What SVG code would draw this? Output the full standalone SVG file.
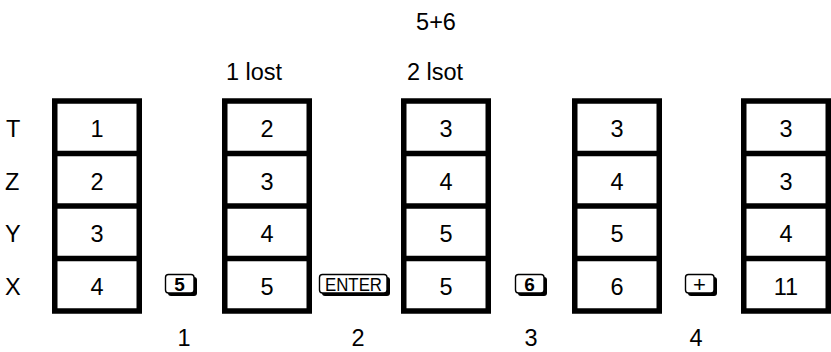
<svg xmlns="http://www.w3.org/2000/svg" width="831" height="352" viewBox="0 0 831 352">
<style>
.t{font-family:"Liberation Sans",Arial,sans-serif;font-size:23.5px;fill:#000}
.c{text-anchor:middle}
.box{fill:#fff;stroke:#000;stroke-width:5.5}
.div{stroke:#000;stroke-width:5.5}
.ks{fill:#000}
.kf{fill:#fff;stroke:#000;stroke-width:1.4}
.kt{font-family:"Liberation Sans",Arial,sans-serif;fill:#000;text-anchor:middle}
</style>
<defs>
<g id="stack">
<rect class="box" x="2.75" y="101" width="84.5" height="210"/>
<line class="div" x1="0" y1="153.5" x2="90" y2="153.5"/>
<line class="div" x1="0" y1="206" x2="90" y2="206"/>
<line class="div" x1="0" y1="258.5" x2="90" y2="258.5"/>
</g>
</defs>
<rect width="831" height="352" fill="#fff"/>
<g id="title">
<text class="t c" x="436" y="30">5+6</text>
<text class="t c" x="254" y="80">1 lost</text>
<text class="t c" x="435" y="80">2 lsot</text>
</g>
<g id="rowlabels">
<text class="t" x="6" y="137">T</text>
<text class="t" x="5" y="189.5">Z</text>
<text class="t" x="5" y="242">Y</text>
<text class="t" x="5" y="294.5">X</text>
</g>
<g id="stack1">
<use href="#stack" x="52"/>
<text class="t c" x="97" y="137">1</text>
<text class="t c" x="97" y="189.5">2</text>
<text class="t c" x="97" y="242">3</text>
<text class="t c" x="97" y="294.5">4</text>
</g>
<g id="stack2">
<use href="#stack" x="222"/>
<text class="t c" x="267" y="137">2</text>
<text class="t c" x="267" y="189.5">3</text>
<text class="t c" x="267" y="242">4</text>
<text class="t c" x="267" y="294.5">5</text>
</g>
<g id="stack3">
<use href="#stack" x="401"/>
<text class="t c" x="446" y="137">3</text>
<text class="t c" x="446" y="189.5">4</text>
<text class="t c" x="446" y="242">5</text>
<text class="t c" x="446" y="294.5">5</text>
</g>
<g id="stack4">
<use href="#stack" x="572"/>
<text class="t c" x="617" y="137">3</text>
<text class="t c" x="617" y="189.5">4</text>
<text class="t c" x="617" y="242">5</text>
<text class="t c" x="617" y="294.5">6</text>
</g>
<g id="stack5">
<use href="#stack" x="741"/>
<text class="t c" x="786" y="137">3</text>
<text class="t c" x="786" y="189.5">3</text>
<text class="t c" x="786" y="242">4</text>
<text class="t c" x="786" y="294.5">11</text>
</g>
<g id="key5">
<rect class="ks" x="168" y="277" width="29" height="19" rx="3"/>
<rect class="kf" x="165.5" y="274.5" width="28.5" height="18.5" rx="3"/>
<text class="kt" x="179.5" y="291" font-size="19" font-weight="bold">5</text>
</g>
<g id="keyEnter">
<rect class="ks" x="322" y="277" width="68" height="19" rx="3"/>
<rect class="kf" x="319.5" y="274.5" width="67.5" height="18.5" rx="3"/>
<text class="kt" x="353.5" y="291" font-size="19" textLength="57" lengthAdjust="spacingAndGlyphs">ENTER</text>
</g>
<g id="key6">
<rect class="ks" x="518" y="277" width="29" height="19" rx="3"/>
<rect class="kf" x="515.5" y="274.5" width="28.5" height="18.5" rx="3"/>
<text class="kt" x="529.5" y="291" font-size="19" font-weight="bold">6</text>
</g>
<g id="keyPlus">
<rect class="ks" x="688" y="277" width="29" height="19" rx="3"/>
<rect class="kf" x="685.5" y="274.5" width="28.5" height="18.5" rx="3"/>
<text class="kt" x="699.5" y="292" font-size="22">+</text>
</g>
<g id="steps">
<text class="t c" x="184" y="346">1</text>
<text class="t c" x="358" y="346">2</text>
<text class="t c" x="531" y="346">3</text>
<text class="t c" x="696" y="346">4</text>
</g>
<g id="connectors"/>
</svg>
